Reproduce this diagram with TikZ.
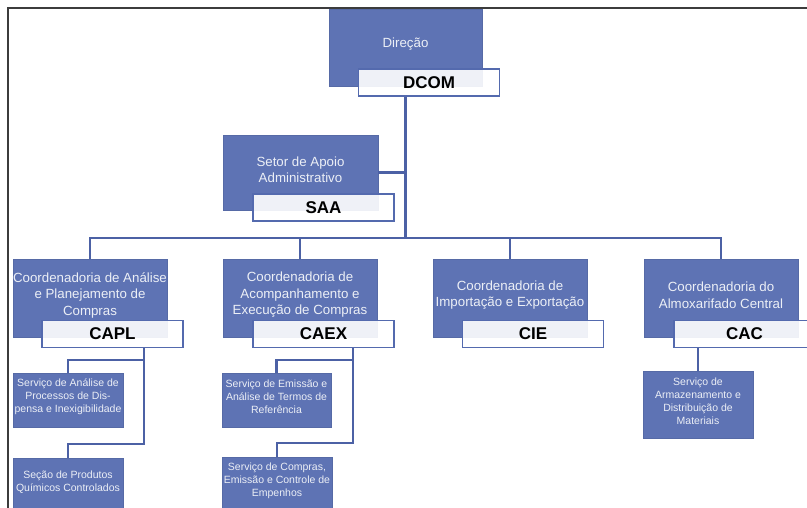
\documentclass[tikz,border=0pt]{standalone}
\usepackage{fontspec}
\setmainfont{Liberation Sans}
\definecolor{boxblue}{RGB}{94,115,180}
\definecolor{lineblue}{RGB}{76,97,165}
\definecolor{edgeblue}{RGB}{84,106,174}
\definecolor{boxtext}{RGB}{236,239,246}
\definecolor{framegray}{RGB}{60,60,60}

\begin{document}
\begin{tikzpicture}[x=1pt,y=-1pt,
  unitbox/.style={fill=boxblue, draw=boxblue!92!black, line width=0.5, inner sep=0},
  codebox/.style={fill=white, fill opacity=0.9, text opacity=1, draw=edgeblue, draw opacity=1,
    line width=1.6, minimum width=141, minimum height=27, inner sep=0,
    font=\fontsize{17}{20}\selectfont\bfseries},
  maintxt/.style={text=boxtext, align=center, inner sep=0, font=\fontsize{13.3}{16.5}\selectfont},
  smalltxt/.style={text=boxtext, align=center, inner sep=0, font=\fontsize{10.5}{13}\selectfont},
  conn/.style={draw=lineblue, line width=2.4}]

\useasboundingbox (0,0) rectangle (807,507);

% outer frame
\draw[framegray, line width=1.5] (8,520) -- (8,8) -- (830,8);

% junction points of the main trunk
\coordinate (bus) at (405.5,238);

% ---- top level
\node[unitbox, minimum width=153, minimum height=77] (dir) at (405.5,47.5) {};
\node[maintxt] (dirT) at ([yshift=3]dir.center) {Direção};
\node[codebox] (dcom) at (429,82.5) {DCOM};

% ---- support sector
\node[unitbox, minimum width=155, minimum height=75] (saa) at (300.5,172.5) {};
\node[maintxt] (saaT) at ([yshift=3]saa.center) {Setor de Apoio\\Administrativo};
\node[codebox] (saac) at (323.5,207.5) {SAA};

% ---- coordinations
\node[unitbox, minimum width=154, minimum height=78] (capl) at (90,298) {};
\node[maintxt] (caplT) at ([yshift=3]capl.center) {Coordenadoria de Análise\\e Planejamento de\\Compras};
\node[codebox] (caplc) at (112.5,334) {CAPL};

\node[unitbox, minimum width=154, minimum height=78] (caex) at (300,298) {};
\node[maintxt] (caexT) at ([yshift=3]caex.center) {Coordenadoria de\\Acompanhamento e\\Execução de Compras};
\node[codebox] (caexc) at (323.5,334) {CAEX};

\node[unitbox, minimum width=154, minimum height=78] (cie) at (510,298) {};
\node[maintxt] (cieT) at ([yshift=3]cie.center) {Coordenadoria de\\Importação e Exportação};
\node[codebox] (ciec) at (533,334) {CIE};

\node[unitbox, minimum width=154, minimum height=78] (cac) at (721,298) {};
\node[maintxt] (cacT) at ([yshift=3]cac.center) {Coordenadoria do\\Almoxarifado Central};
\node[codebox] (cacc) at (744.5,334) {CAC};

% ---- services and sections
\node[unitbox, minimum width=110, minimum height=54] (s1) at (68,400) {};
\node[smalltxt] (s1T) at ([yshift=3]s1.center) {Serviço de Análise de\\Processos de Dis-\\pensa e Inexigibilidade};
\node[unitbox, minimum width=110, minimum height=54] (s2) at (68,485) {};
\node[smalltxt] (s2T) at ([yshift=3]s2.center) {Seção de Produtos\\Químicos Controlados};

\node[unitbox, minimum width=109, minimum height=54] (s3) at (276.5,400) {};
\node[smalltxt] (s3T) at ([yshift=3]s3.center) {Serviço de Emissão e\\Análise de Termos de\\Referência};
\node[unitbox, minimum width=110, minimum height=54] (s4) at (277,484) {};
\node[smalltxt] (s4T) at ([yshift=3]s4.center) {Serviço de Compras,\\Emissão e Controle de\\Empenhos};

\node[unitbox, minimum width=110, minimum height=67] (s5) at (698,404.5) {};
\node[smalltxt] (s5T) at ([yshift=3]s5.center) {Serviço de\\Armazenamento e\\Distribuição de\\Materiais};

% ---- connectors
\draw[conn] (dir.center |- dcom.south) -- (bus);
\draw[conn] (saa.east) -- (saa.east -| bus);
\draw[conn] (capl.north) |- (bus) -| (cac.north);
\draw[conn] (caex.north) -- (caex.north |- bus);
\draw[conn] (cie.north) -- (cie.north |- bus);
\draw[conn] (s1.north) -- ++(0,-13) -| ([xshift=31.5]caplc.south);
\draw[conn] (s2.north) -- ++(0,-14) -| ([xshift=31.5]caplc.south);
\draw[conn] (s3.north) -- ++(0,-13) -| ([xshift=29.5]caexc.south);
\draw[conn] (s4.north) -- ++(0,-14) -| ([xshift=29.5]caexc.south);
\draw[conn] (cacc.south -| s5.north) -- (s5.north);
\end{tikzpicture}
\end{document}
